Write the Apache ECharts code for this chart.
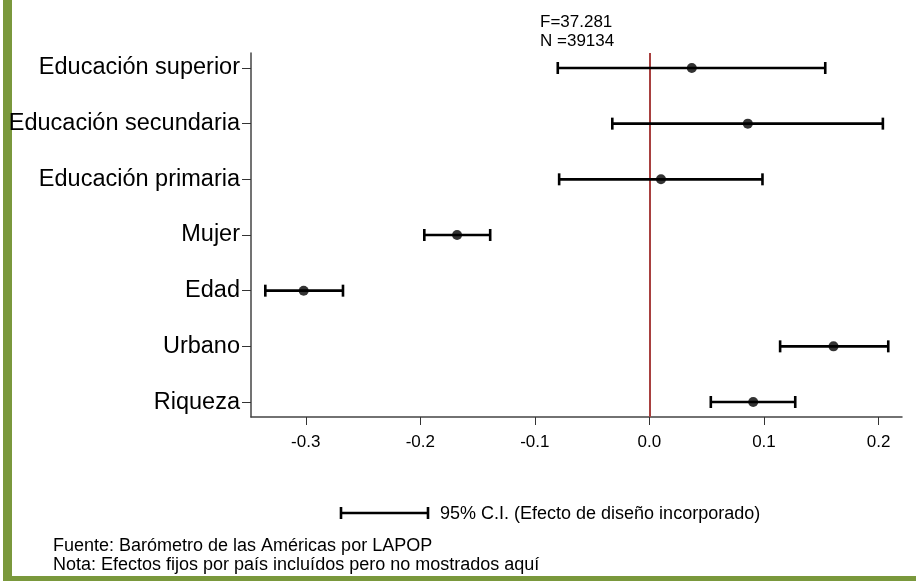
<!DOCTYPE html>
<html><head><meta charset="utf-8">
<script src="https://cdn.jsdelivr.net/npm/echarts@6/dist/echarts.min.js"></script>
<style>html,body{margin:0;padding:0;background:#fff}#c{width:916px;height:581px}</style>
</head><body><div id="c"></div>
<script>
// Categories, bottom to top
const categories = ['Riqueza','Urbano','Edad','Mujer','Educación primaria','Educación secundaria','Educación superior'];
const estimates = [0.0906, 0.1607, -0.3018, -0.1679, 0.0101, 0.0859, 0.0370];
const lowerCI  = [0.0536, 0.1141, -0.3353, -0.1965, -0.0788, -0.0324, -0.0800];
const upperCI  = [0.1273, 0.2085, -0.2675, -0.1390, 0.0987, 0.2038, 0.1535];
const xTicks = [-0.3, -0.2, -0.1, 0.0, 0.1, 0.2];
const statLines = ['F=37.281', 'N =39134'];
const legendText = '95% C.I. (Efecto de diseño incorporado)';
const footerLines = ['Fuente: Barómetro de las Américas por LAPOP', 'Nota: Efectos fijos por país incluídos pero no mostrados aquí'];

const FONT = "'Liberation Sans', Arial, sans-serif";
const rowPos = categories.map((c, i) => i + 1);
const ciData = categories.map((c, i) => [rowPos[i], lowerCI[i], upperCI[i]]);
const ptData = categories.map((c, i) => [estimates[i], rowPos[i]]);

const chart = echarts.init(document.getElementById('c'));
const CAP = 6, LW = 2.6;
chart.setOption({
  animation: false,
  backgroundColor: '#fff',
  grid: { left: 251, right: 14, top: 53, bottom: 164, containLabel: false },
  xAxis: {
    type: 'value', min: -0.3478, max: 0.2205,
    axisLine: { show: true, onZero: false, lineStyle: { color: '#444', width: 1.5 } },
    axisTick: { show: true, customValues: xTicks, length: 8, lineStyle: { color: '#333', width: 1 } },
    axisLabel: { customValues: xTicks, formatter: v => v.toFixed(1), fontSize: 17, color: '#000', margin: 17, fontFamily: FONT },
    splitLine: { show: false }
  },
  yAxis: {
    type: 'value', min: 0.731, max: 7.269,
    axisLine: { show: true, onZero: false, lineStyle: { color: '#444', width: 1.5 } },
    axisTick: { show: true, customValues: rowPos, length: 9, lineStyle: { color: '#333', width: 1 } },
    axisLabel: { customValues: rowPos, formatter: v => categories[Math.round(v) - 1], fontSize: 23.5, color: '#000', margin: 11, fontFamily: FONT },
    splitLine: { show: false }
  },
  series: [
    {
      type: 'custom',
      data: ciData,
      encode: { x: [1, 2], y: 0 },
      renderItem: function (params, api) {
        const y = api.value(0), lo = api.value(1), hi = api.value(2);
        const a = api.coord([lo, y]), b = api.coord([hi, y]);
        const st = { stroke: '#000', lineWidth: LW };
        return { type: 'group', children: [
          { type: 'line', shape: { x1: a[0], y1: a[1], x2: b[0], y2: b[1] }, style: st },
          { type: 'line', shape: { x1: a[0], y1: a[1] - CAP, x2: a[0], y2: a[1] + CAP }, style: st },
          { type: 'line', shape: { x1: b[0], y1: b[1] - CAP, x2: b[0], y2: b[1] + CAP }, style: st }
        ]};
      },
      z: 3
    },
    {
      type: 'scatter',
      data: ptData,
      symbol: 'circle', symbolSize: 10,
      itemStyle: { color: '#000' },
      z: 4,
      markLine: {
        silent: true, symbol: 'none',
        label: { show: false },
        lineStyle: { color: '#a8403f', width: 2, type: 'solid' },
        data: [{ xAxis: 0 }],
        z: 2
      }
    }
  ],
  graphic: [
    { type: 'rect', shape: { x: 3, y: 0, width: 9, height: 581 }, style: { fill: '#7a983c' }, silent: true },
    { type: 'rect', shape: { x: 3, y: 576, width: 913, height: 5 }, style: { fill: '#7a983c' }, silent: true },
    { type: 'text', x: 540, y: 22, style: { text: statLines[0], fontSize: 17, fill: '#000', fontFamily: FONT, verticalAlign: 'middle' } },
    { type: 'text', x: 540, y: 41, style: { text: statLines[1], fontSize: 17, fill: '#000', fontFamily: FONT, verticalAlign: 'middle' } },
    { type: 'line', shape: { x1: 341, y1: 513, x2: 428, y2: 513 }, style: { stroke: '#000', lineWidth: LW } },
    { type: 'line', shape: { x1: 341, y1: 507, x2: 341, y2: 519 }, style: { stroke: '#000', lineWidth: LW } },
    { type: 'line', shape: { x1: 428, y1: 507, x2: 428, y2: 519 }, style: { stroke: '#000', lineWidth: LW } },
    { type: 'text', x: 440, y: 514, style: { text: legendText, fontSize: 18, fill: '#000', fontFamily: FONT, verticalAlign: 'middle' } },
    { type: 'text', x: 53, y: 546, style: { text: footerLines[0], fontSize: 18, fill: '#000', fontFamily: FONT, verticalAlign: 'middle' } },
    { type: 'text', x: 53, y: 565, style: { text: footerLines[1], fontSize: 18, fill: '#000', fontFamily: FONT, verticalAlign: 'middle' } }
  ]
});
</script>
</body></html>
